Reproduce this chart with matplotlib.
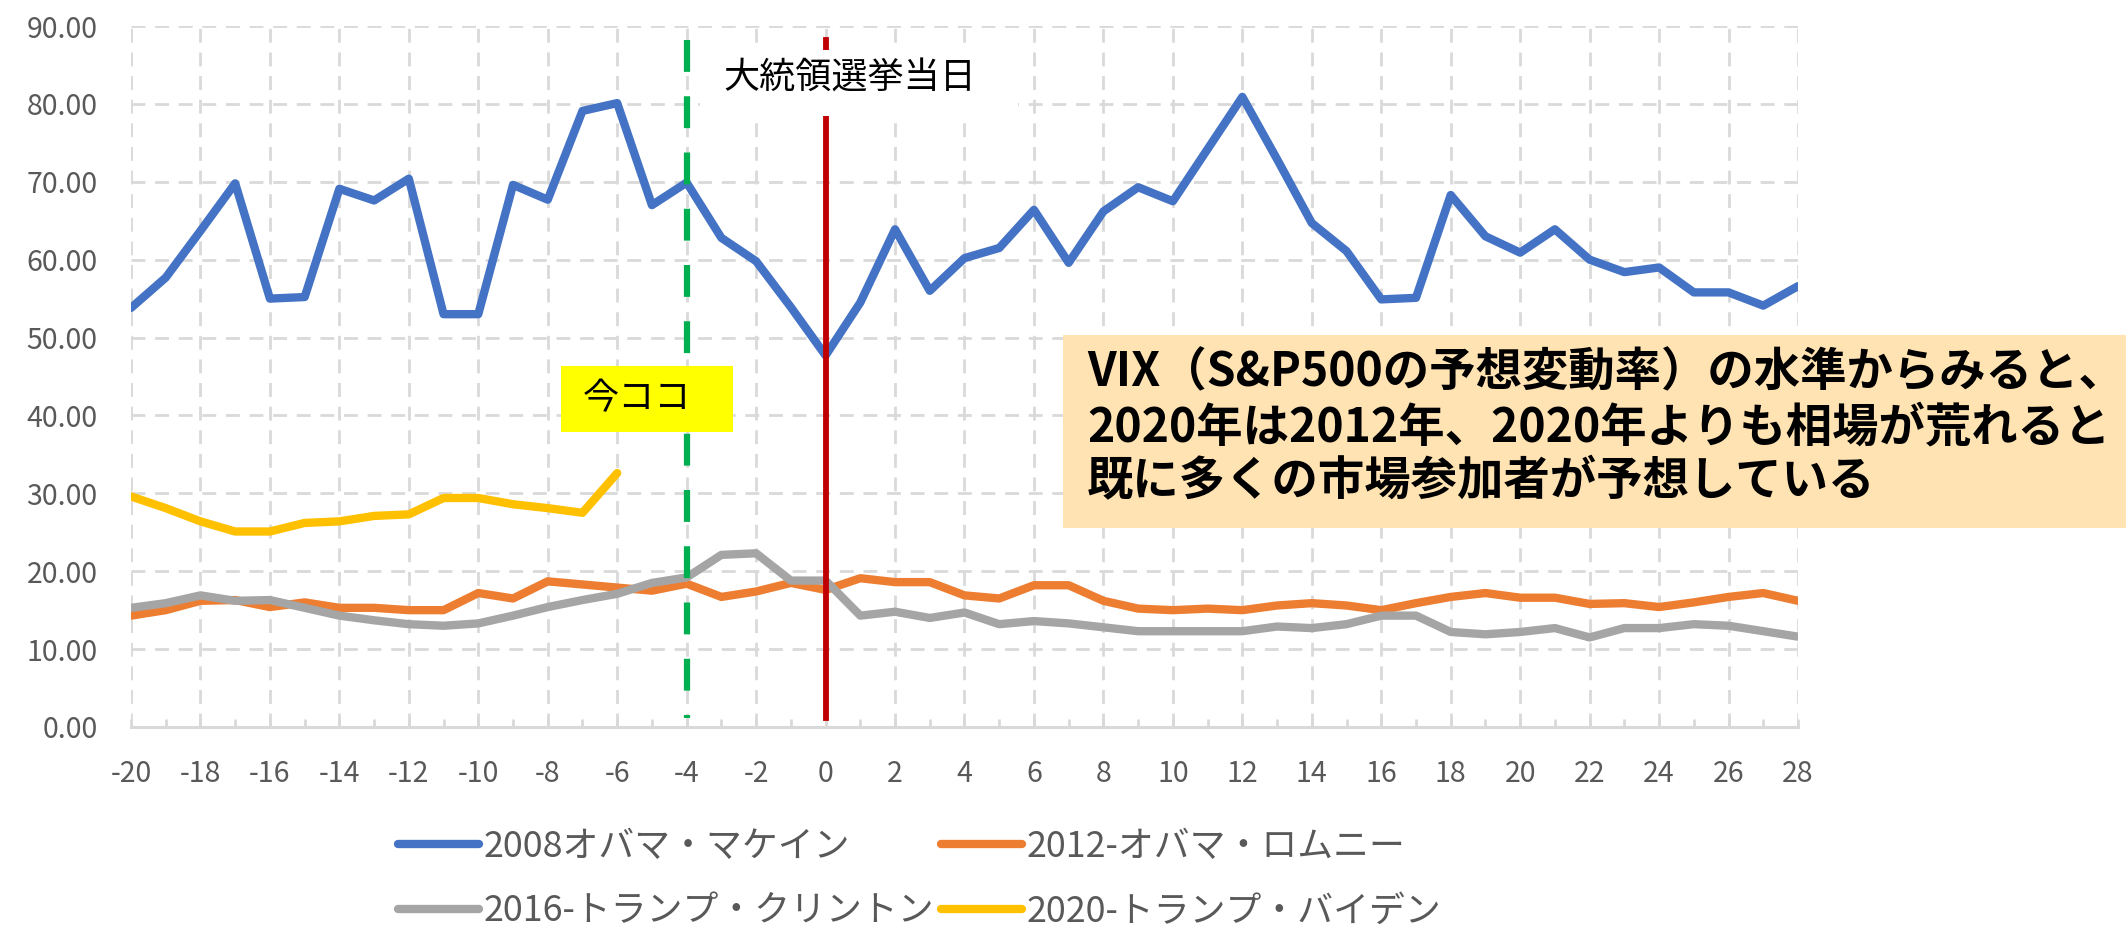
import matplotlib
matplotlib.use("Agg")
import numpy as np
import matplotlib.pyplot as plt
from matplotlib.patches import Rectangle
from matplotlib.ticker import MultipleLocator, FormatStrFormatter

plt.rcParams['font.family'] = ['Noto Sans CJK JP', 'DejaVu Sans']
plt.rcParams['axes.unicode_minus'] = False

# days relative to election day
days = list(range(-20, 29))

vix_2008 = [53.8, 57.7, 63.7, 69.8, 55.0, 55.2, 69.1, 67.6, 70.4, 53.0, 53.0, 69.6, 67.7,
            79.1, 80.1, 67.0, 69.9, 62.8, 59.8, 53.9, 47.7, 54.5, 63.9, 56.0, 60.2, 61.5,
            66.4, 59.6, 66.2, 69.3, 67.5, 74.2, 80.9, 72.9, 64.7, 61.1, 54.9, 55.1, 68.3,
            63.0, 60.9, 63.9, 60.0, 58.4, 59.0, 55.8, 55.8, 54.1, 56.6]
vix_2012 = [14.3, 15.0, 16.2, 16.3, 15.4, 16.0, 15.3, 15.3, 15.0, 15.0, 17.2, 16.5, 18.7,
            18.3, 17.9, 17.5, 18.4, 16.7, 17.4, 18.5, 17.6, 19.1, 18.6, 18.6, 16.9, 16.5,
            18.2, 18.2, 16.2, 15.2, 15.0, 15.2, 15.0, 15.6, 15.9, 15.6, 15.0, 15.9, 16.7,
            17.2, 16.6, 16.6, 15.8, 15.9, 15.4, 16.0, 16.7, 17.2, 16.2]
vix_2016 = [15.3, 15.9, 16.9, 16.2, 16.3, 15.3, 14.3, 13.7, 13.2, 13.0, 13.3, 14.3, 15.4,
            16.3, 17.1, 18.5, 19.2, 22.1, 22.3, 18.8, 18.8, 14.3, 14.8, 14.0, 14.7, 13.2,
            13.6, 13.3, 12.8, 12.3, 12.3, 12.3, 12.3, 12.9, 12.7, 13.2, 14.3, 14.3, 12.2,
            11.9, 12.2, 12.7, 11.5, 12.7, 12.7, 13.2, 13.0, 12.3, 11.6]
vix_2020 = [29.6, 28.1, 26.4, 25.1, 25.1, 26.2, 26.4, 27.1, 27.3, 29.4, 29.4, 28.6, 28.1,
            27.5, 32.6]

series_labels = ["2008オバマ・マケイン", "2012-オバマ・ロムニー",
                 "2016-トランプ・クリントン", "2020-トランプ・バイデン"]
colors = ["#4472C4", "#ED7D31", "#A5A5A5", "#FFC000"]

today = -4
election_day = 0
note = ("VIX（S&P500の予想変動率）の水準からみると、\n"
        "2020年は2012年、2020年よりも相場が荒れると\n"
        "既に多くの市場参加者が予想している")

W, H = 2126, 934


def fig_box(x0, y0, x1, y1):
    # pixel box (top-left origin) -> figure fraction rectangle
    return (x0 / W, 1 - y1 / H), (x1 - x0) / W, (y1 - y0) / H


fig = plt.figure(figsize=(W / 100, H / 100), dpi=100)
ax = fig.add_axes([131 / W, 1 - 727 / H, (1798 - 131) / W, (727 - 26) / H])

lines = []
for vals, c in zip([vix_2008, vix_2012, vix_2016, vix_2020], colors):
    ln, = ax.plot(days[:len(vals)], vals, color=c, lw=6,
                  solid_joinstyle='round', solid_capstyle='round', zorder=3)
    lines.append(ln)

ax.plot([today, today], [88.2, 1.2], color="#00B050", lw=4.5,
        linestyle=(0, (5.1, 3.9)), zorder=5)
ax.plot([election_day, election_day], [88.2, 1.2], color="#C00000", lw=4.2, zorder=5)

ax.set_xlim(-20, 28)
ax.set_ylim(0, 90)
ax.xaxis.set_major_locator(MultipleLocator(2))
ax.xaxis.set_minor_locator(MultipleLocator(1))
ax.yaxis.set_major_locator(MultipleLocator(10))
ax.xaxis.set_major_formatter(FormatStrFormatter('%d'))
ax.yaxis.set_major_formatter(FormatStrFormatter('%.2f'))

ax.set_axisbelow(True)
ax.grid(True, which='major', color='#d9d9d9', linestyle=(0, (5, 3.5)), linewidth=2)
for s in ['top', 'right', 'left']:
    ax.spines[s].set_visible(False)
ax.spines['bottom'].set_color('#d9d9d9')
ax.spines['bottom'].set_linewidth(2.2)

ax.tick_params(axis='x', which='both', direction='in', length=6, width=2,
               color='#d9d9d9', labelsize=20.5, labelcolor='#595959', pad=23)
ax.tick_params(axis='y', length=0, labelsize=20.5, labelcolor='#595959', pad=24)

# white label box over the election-day line
xy, w, h = fig_box(700, 50, 1018, 116)
fig.add_artist(Rectangle(xy, w, h, transform=fig.transFigure,
                         facecolor='white', edgecolor='none', zorder=2))
fig.text(850 / W, 1 - 79 / H, "大統領選挙当日", fontsize=26, color='black',
         ha='center', va='center', zorder=3)

# yellow "now" box
xy, w, h = fig_box(561, 366, 733, 432)
fig.add_artist(Rectangle(xy, w, h, transform=fig.transFigure,
                         facecolor='#FFFF00', edgecolor='none', zorder=2))
fig.text(583 / W, 1 - 399 / H, "今ココ", fontsize=26, color='black',
         ha='left', va='center', zorder=3)

# comment box
xy, w, h = fig_box(1063, 335, 2126, 528)
fig.add_artist(Rectangle(xy, w, h, transform=fig.transFigure,
                         facecolor='#FFE3B3', edgecolor='none', zorder=2))
fig.text(1087 / W, 1 - 427 / H, note, fontsize=33.4, fontweight='bold', color='black',
         ha='left', va='center', linespacing=1.17, zorder=3)

order = [0, 2, 1, 3]
fig.legend([lines[i] for i in order], [series_labels[i] for i in order],
           loc='center left', bbox_to_anchor=(398 / W, 1 - 879 / H), ncol=2,
           frameon=False, fontsize=25.8, handlelength=2.27, handletextpad=0.12,
           columnspacing=0.18, labelspacing=0.8, borderpad=0, borderaxespad=0,
           labelcolor='#595959')

fig.savefig("out.png", dpi=100)
